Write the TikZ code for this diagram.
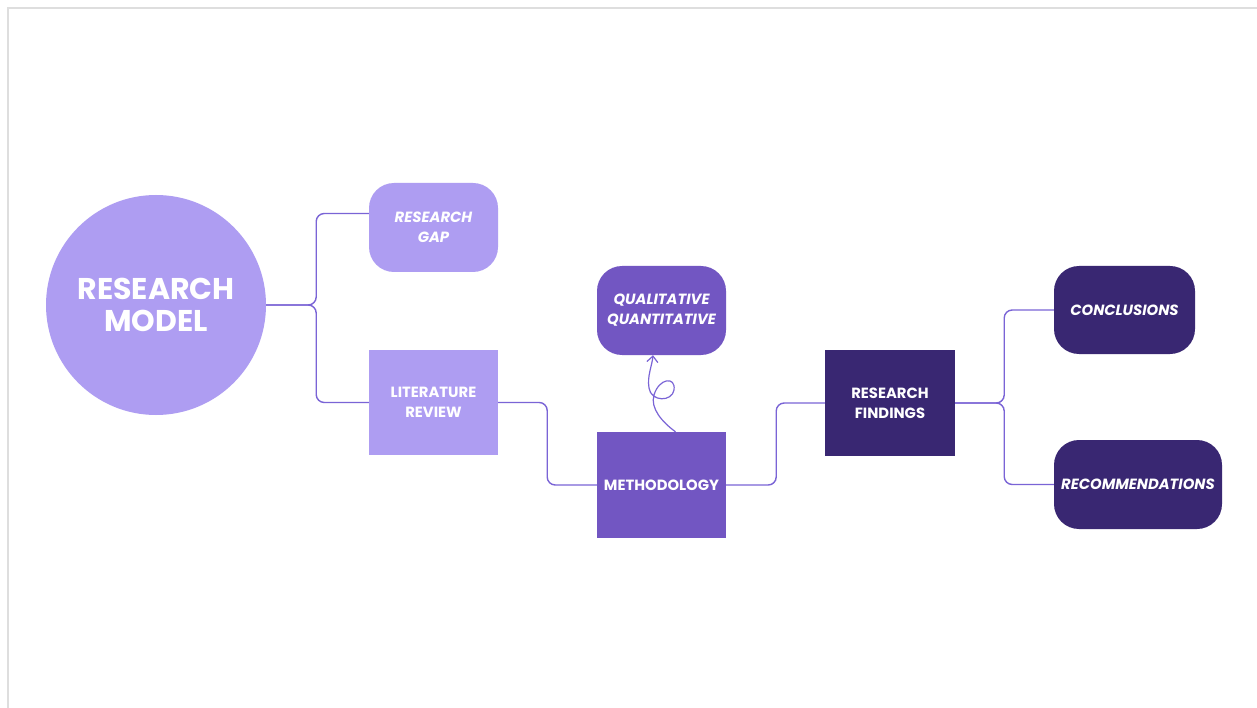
\documentclass[tikz,border=0pt]{standalone}
\usepackage{fontspec}
\setmainfont{Poppins}
\usetikzlibrary{arrows.meta,calc}
\definecolor{cLight}{RGB}{174,157,242}
\definecolor{cMid}{RGB}{114,86,194}
\definecolor{cDark}{RGB}{57,39,114}
\definecolor{cLine}{RGB}{122,100,214}
\definecolor{cBorder}{RGB}{222,222,222}
\tikzset{
  box/.style={inner sep=0pt, align=center, text=white, font=\fontsize{14.8}{20}\selectfont\bfseries},
  roundbox/.style={box, rounded corners=25pt, font=\fontsize{14.8}{20}\selectfont\bfseries\itshape},
  conn/.style={draw=cLine, line width=1.4pt, rounded corners=8pt},
}
\begin{document}
\begin{tikzpicture}[x=1pt,y=-1pt]
\useasboundingbox (0,0) rectangle (1257,708);
\fill[white] (0,0) rectangle (1257,708);
\draw[cBorder, line width=2pt] (8,708) -- (8,8) -- (1257,8);

\node[circle, fill=cLight, minimum size=220pt, inner sep=0pt, align=center, text=white,
      font=\fontsize{30}{32}\selectfont\bfseries] (model) at (156,305) {RESEARCH\\MODEL};
\node[roundbox, fill=cLight, minimum width=129pt, minimum height=89pt] (gap) at (433.5,227.5) {RESEARCH\\GAP};
\node[box, fill=cLight, minimum width=129pt, minimum height=105pt] (lit) at (433.5,402.5) {LITERATURE\\REVIEW};
\node[roundbox, fill=cMid, minimum width=129pt, minimum height=89pt] (qual) at (661.5,310.5) {QUALITATIVE\\QUANTITATIVE};
\node[box, fill=cMid, minimum width=129pt, minimum height=106pt] (meth) at (661.5,485) {METHODOLOGY};
\node[box, fill=cDark, minimum width=130pt, minimum height=106pt] (find) at (890,403) {RESEARCH\\FINDINGS};
\node[roundbox, fill=cDark, minimum width=141pt, minimum height=88pt] (concl) at (1124.5,310) {CONCLUSIONS};
\node[roundbox, fill=cDark, minimum width=168pt, minimum height=89pt] (recom) at (1138,484.5) {RECOMMENDATIONS};

\coordinate (gapin) at ($(gap.west)+(0,-14)$);
\draw[conn] (model.east) -- ++(50,0) |- (gapin);
\draw[conn] (model.east) -- ++(50,0) |- (lit.west);
\draw[conn] (lit.east) -- ++(49,0) |- (meth.west);
\draw[conn] (meth.east) -- ++(50,0) |- (find.west);
\draw[conn] (find.east) -- ++(49,0) |- (concl.west);
\draw[conn] (find.east) -- ++(49,0) |- (recom.west);

\coordinate (mtop) at ($(meth.north)+(14,0)$);
\coordinate (qin) at ($(qual.south)+(-8.5,0)$);
\draw[cLine, line width=1.2pt, -{Straight Barb[length=6pt,width=11pt]}]
  (mtop) .. controls (662,422) and (650,408) .. (654,395)
  .. controls (659,378) and (676,376) .. (674,390)
  .. controls (672,402) and (651,402) .. (649,388)
  .. controls (647,376) and (652,366) .. (qin);
\end{tikzpicture}
\end{document}
